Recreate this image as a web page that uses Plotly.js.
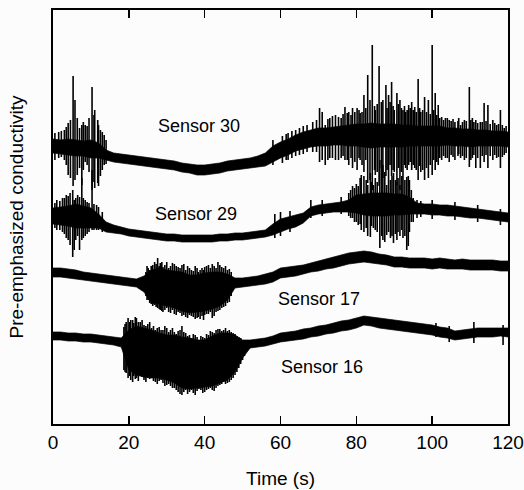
<!DOCTYPE html>
<html>
<head>
<meta charset="utf-8">
<script src="https://cdn.plot.ly/plotly-3.0.1.min.js"></script>
<style>
html,body{margin:0;padding:0;background:#fcfcfd;}
#chart{width:524px;height:490px;}
</style>
</head>
<body>
<div id="chart"></div>
<script>
// Time samples (s) for the dense core band of each trace
const time = [0,2,4,6,8,10,12,14,16,18,20,22,24,26,28,30,32,34,36,38,40,42,44,46,48,50,52,54,56,58,60,62,64,66,68,70,72,74,76,78,80,82,84,86,88,90,92,94,96,98,100,102,104,106,108,110,112,114,116,118,120];

// Sensor 30 (top trace): upper / lower edge of the dense band (a.u.)
const s30Upper = [285,284,285,284,283,284,281,274,271,270,269,268,267,266,265,264,263,261,260,259,259,260,261,263,264,265,266,268,271,278,282,285,289,292,294,296,296,297,298,299,300,300,301,300,300,300,299,299,298,298,298,298,296,296,295,295,294,294,293,293,292];
const s30Lower = [271,270,269,268,268,266,266,264,262,261,260,259,258,257,256,255,254,252,251,249,249,250,251,253,254,255,256,257,258,262,266,269,273,275,277,278,278,279,279,278,278,277,276,277,277,277,277,278,278,278,278,278,279,278,278,277,278,278,278,278,277];
// Sensor 30 spikes: time, top and bottom of each excursion
const s30SpikeT   = [1.5,3,4,5.3,5.8,7,7.6,8.5,9.5,10.3,11,11.8,12.5,13.5,58,60.5,62,65,68.5,70.3,71,71.8,73,74.5,76,77,78,79,80.2,81,82,83,83.6,84.2,85,86,87,87.8,88.5,89.3,90,90.7,91.5,92.3,93,93.8,94.6,95.4,96.3,97,98,99,100,100.8,101.6,102.5,103.5,104.5,106,107.5,108.5,109.8,110.6,111.5,112.7,113.7,114.7,116,117,118,119,
  0.5,2.2,3.5,4.6,6.4,8,9,10.8,12,13,14,
  61.5,63,64,66,67,69.5,72.5,73.7,75.3,76.5,77.6,78.6,79.6,80.7,81.5,82.5,84.8,85.5,86.6,88.1,88.9,89.7,91.1,91.9,92.7,93.4,94.2,95,95.8,96.7,97.5,98.5,99.5,100.4,101.2,102,103,104,105,105.5,106.8,107,108,109,110.2,111,112,113.2,114.2,115.3,116.5,117.5,118.5,119.5];
const s30SpikeTop = [292,294,301,348,324,296,299,299,306,337,314,304,294,289,284,288,291,296,302,316,312,299,306,309,306,317,312,316,316,311,329,349,324,379,314,358,324,339,329,342,314,331,324,314,312,319,322,317,345,312,327,324,379,331,319,307,306,304,302,299,304,337,306,304,302,321,319,304,299,314,296,
  291,293,297,304,306,302,298,309,299,292,284,
  290,293,294,298,299,304,305,308,307,310,311,309,312,314,312,316,318,320,322,316,322,318,320,316,318,314,316,314,312,316,314,312,310,314,309,306,304,306,303,305,303,306,302,303,304,302,301,302,303,300,301,300,299,298];
const s30SpikeBot = [266,264,249,238,244,256,239,262,252,234,236,241,248,259,259,261,264,269,272,262,264,259,266,264,266,264,259,256,254,264,252,241,244,234,249,238,246,248,246,248,252,239,234,249,256,259,254,256,244,252,244,246,249,254,259,264,266,262,264,266,264,257,266,256,256,262,256,264,266,256,269,
  264,267,259,246,249,254,259,242,238,254,260,
  264,266,268,270,272,272,264,266,264,268,264,266,262,266,259,264,254,252,256,254,259,254,256,252,259,254,262,259,254,258,254,256,259,264,262,266,268,266,269,267,268,270,268,266,264,269,266,268,269,268,269,267,267,271];

// Sensor 29
const s29Upper = [216,217,218,220,218,216,210,202,199,197,195,194,193,192,191,190,190,189,189,189,189,189,190,190,191,191,192,193,194,200,205,207,209,211,217,219,220,221,222,224,229,230,231,231,231,230,230,227,221,220,220,219,219,218,217,216,215,214,213,212,211];
const s29Lower = [200,199,198,196,196,196,196,192,191,190,188,187,186,185,184,183,183,182,182,182,182,182,183,183,184,184,185,186,187,189,192,195,197,201,208,210,211,212,212,212,211,209,208,208,208,209,209,210,210,210,209,209,208,208,207,206,206,205,204,203,202];
const s29SpikeT   = [1,2.5,3.5,4.5,5.2,6,7,7.6,8.5,9.5,10.3,11.5,13,58.5,60,62.5,68,71,76,78.5,79.5,80.5,81.3,82,83,83.7,84.5,85.5,86.2,87,88,89,89.8,90.7,91.5,92.3,93.3,94,95,100,106,112,118,
  78,79,80,81,82.6,84,85,86.7,87.5,88.5,89.4,90.3,91,92,92.8,93.7,94.5,96,97,
  0.5,1.8,3,4,5.6,6.5,8,9,10.8,12];
const s29SpikeTop = [224,226,229,231,234,226,227,246,224,221,254,219,212,210,212,213,224,224,227,234,236,238,249,248,239,251,239,242,264,259,239,244,251,242,239,249,247,244,226,224,222,219,215,
  231,238,240,246,244,242,246,256,252,246,248,244,246,248,244,248,234,224,223,
  221,223,226,228,224,229,226,222,220,217];
const s29SpikeBot = [194,192,186,179,167,184,174,184,188,192,194,194,192,186,188,192,206,208,210,206,202,199,194,192,188,187,196,192,176,184,189,186,181,184,188,186,174,192,202,205,204,202,199,
  208,206,202,200,196,198,194,188,182,192,188,190,192,194,188,178,202,206,207,
  196,194,190,184,174,188,186,190,194,194];

// Sensor 17
const s17Upper = [156,156,155,154,152,151,150,149,148,147,146,145,148,154,156,154,153,152,149,149,151,152,152,150,146,146,147,148,150,152,156,157,158,159,161,163,165,167,169,171,172,173,172,170,169,167,167,166,166,166,165,166,165,164,165,164,164,164,164,163,163];
const s17Lower = [147,147,146,145,144,143,142,141,140,139,138,137,132,121,120,118,116,113,111,112,113,115,118,124,136,137,138,139,140,142,146,147,148,150,152,153,155,156,158,160,161,162,161,160,159,157,157,156,156,156,155,156,155,155,155,154,154,154,154,153,153];
const s17SpikeT   = [24.8,25.5,26.3,27.6,28.3,29,30,31,32,33,34,35,36,37,38,38.8,40,41,42,43,44,45,46,
  24.5,25.1,25.9,26.8,27.2,28,28.7,29.5,30.5,31.5,32.5,33.5,34.5,35.5,36.5,37.5,38.3,39.3,39.7,40.5,41.5,42.5,43.5,44.5,45.5,46.5,47];
const s17SpikeTop = [158,154,159,166,161,157,162,158,160,157,159,154,156,153,156,154,157,159,160,156,159,156,154,
  152,156,158,162,160,158,162,159,156,161,158,156,160,158,154,158,152,156,154,158,156,158,162,157,158,155,152];
const s17SpikeBot = [124,121,118,116,114,112,116,111,110,112,108,107,109,107,106,105,109,110,106,112,114,117,121,
  128,124,120,119,117,115,113,114,112,114,109,111,109,106,108,105,107,108,104,110,112,108,113,116,118,122,128];

// Sensor 16 (bottom trace)
const s16Upper = [92,92,91,91,90,90,89,88,87,86,94,98,96,94,91,89,89,87,86,84,84,88,91,91,89,84,84,85,86,88,91,92,93,95,96,98,99,101,103,104,106,108,107,106,105,104,103,102,101,100,99,97,96,93,94,95,96,96,96,96,96];
const s16Lower = [84,84,83,83,82,82,81,80,79,77,54,49,47,46,46,44,41,36,35,36,37,38,41,44,52,66,76,77,78,80,82,83,84,85,87,88,90,91,93,94,96,99,98,96,95,94,93,92,91,90,89,87,86,84,85,86,87,87,87,88,87];
const s16SpikeT   = [18.7,19.3,20.5,21.3,22,23,24,25,26,27,28,29,30,31,32,33,34,35,36,37,38,39,40,41,42,43,44,45,46,47,48,49,50,101,104.5,111,118.7,
  19,19.8,20.2,21,21.7,22.5,23.5,24.5,25.5,26.5,27.5,28.5,29.5,30.5,31.5,32.5,33.5,34.5,35.5,36.5,37.5,38.5,39.5,40.5,41.5,42.5,43.5,44.5,45.5,46.5,47.5,48.5,49.5,50.5];
const s16SpikeTop = [97,102,104,101,106,102,99,100,96,94,97,94,96,94,92,93,98,91,89,90,87,88,86,89,92,94,95,94,93,92,90,87,84,101,98,102,99,
  100,106,102,104,107,102,104,98,102,98,96,94,98,92,96,90,94,92,88,86,89,84,87,90,93,91,95,93,96,94,91,88,86,83];
const s16SpikeBot = [54,51,44,48,46,50,44,46,47,42,43,41,39,38,36,32,29,34,32,31,33,34,32,35,34,36,39,42,41,44,49,56,64,87,82,81,79,
  52,46,48,42,45,43,47,42,45,43,40,44,38,40,36,34,30,32,30,34,29,35,31,34,36,33,38,40,40,42,46,52,60,68];

const sensorNames = ['Sensor 30','Sensor 29','Sensor 17','Sensor 16'];
const xTicks = [0,20,40,60,80,100,120];

const sensors = [
  {up:s30Upper, lo:s30Lower, st:s30SpikeT, top:s30SpikeTop, bot:s30SpikeBot},
  {up:s29Upper, lo:s29Lower, st:s29SpikeT, top:s29SpikeTop, bot:s29SpikeBot},
  {up:s17Upper, lo:s17Lower, st:s17SpikeT, top:s17SpikeTop, bot:s17SpikeBot},
  {up:s16Upper, lo:s16Lower, st:s16SpikeT, top:s16SpikeTop, bot:s16SpikeBot}
];

const traces = [];
sensors.forEach(function(s){
  traces.push({
    type:'scatter', mode:'lines',
    x: time.concat(time.slice().reverse()),
    y: s.up.concat(s.lo.slice().reverse()),
    fill:'toself', fillcolor:'#000', line:{color:'#000', width:0.7},
    hoverinfo:'skip', showlegend:false
  });
  const sx = [], sy = [];
  for (let i = 0; i < s.st.length; i++) {
    sx.push(s.st[i], s.st[i], null);
    sy.push(s.top[i], s.bot[i], null);
  }
  traces.push({
    type:'scatter', mode:'lines', x:sx, y:sy,
    line:{color:'#000', width:1.6}, hoverinfo:'skip', showlegend:false
  });
});

const labelPos = [[38.5,298],[37.7,210],[70.2,125],[71,57]];
const font = {family:'Liberation Sans, Arial, Helvetica, sans-serif', color:'#000'};

const layout = {
  width:524, height:490,
  margin:{l:53, r:16, t:10, b:66},
  paper_bgcolor:'#fcfcfd', plot_bgcolor:'#fcfcfd',
  showlegend:false,
  xaxis:{
    range:[0,120], tickvals:xTicks, ticktext:xTicks.map(String),
    ticks:'inside', ticklen:8, tickwidth:1.5, tickcolor:'#000',
    showline:true, linecolor:'#000', linewidth:2, mirror:'ticks',
    showgrid:false, zeroline:false,
    tickfont:Object.assign({size:19}, font),
    title:{text:'Time (s)', font:Object.assign({size:19}, font), standoff:20},
    automargin:false
  },
  yaxis:{
    range:[0,414], showticklabels:false, ticks:'',
    showline:true, linecolor:'#000', linewidth:2, mirror:true,
    showgrid:false, zeroline:false,
    title:{text:'Pre-emphasized conductivity', font:Object.assign({size:19}, font), standoff:22},
    automargin:false
  },
  annotations: sensorNames.map(function(n, i){
    return {x:labelPos[i][0], y:labelPos[i][1], xref:'x', yref:'y', text:n,
      showarrow:false, font:Object.assign({size:18}, font)};
  })
};

Plotly.newPlot('chart', traces, layout, {staticPlot:true});
</script>
</body>
</html>
